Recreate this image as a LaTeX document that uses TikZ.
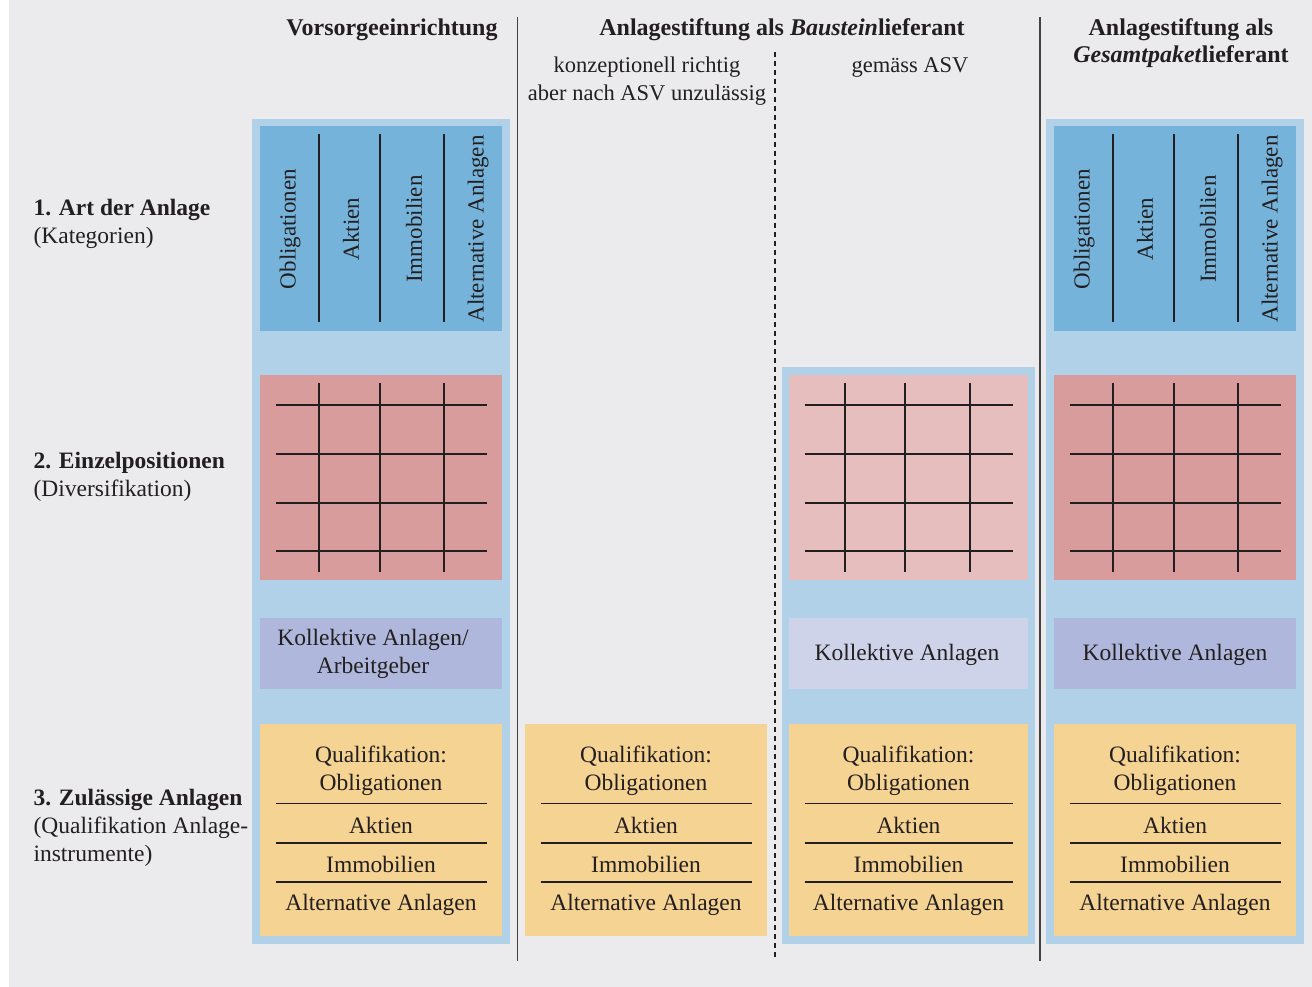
\documentclass[tikz,border=0pt]{standalone}
\usepackage{fontspec}
\setmainfont{Liberation Serif}
\definecolor{bgc}{HTML}{EBEBEE}
\definecolor{outerblue}{HTML}{B0D1E8}
\definecolor{innerblue}{HTML}{76B3DA}
\definecolor{redbox}{HTML}{D99C9C}
\definecolor{redlight}{HTML}{E7BEBE}
\definecolor{kollbox}{HTML}{AFB8DC}
\definecolor{kolllight}{HTML}{CFD3EA}
\definecolor{yelbox}{HTML}{F5D393}
\definecolor{ink}{HTML}{231F20}
\begin{document}
\begin{tikzpicture}[x=1pt,y=-1pt,
  every node/.style={text=ink, font=\fontsize{23.5}{28}\selectfont},
  rule/.style={draw=ink, line width=1.3pt},
  sep/.style={draw=ink!85, line width=1.5pt},
  hdr/.style={font=\fontsize{24}{27}\selectfont\bfseries, align=center},
  sub/.style={align=center, font=\fontsize{22.5}{28}\selectfont},
  lab/.style={anchor=west, align=left},
  vtext/.style={rotate=90, font=\fontsize{23}{27}\selectfont},
  cell/.style={align=center}]
\useasboundingbox (0,0) rectangle (1312,987);
\fill[white] (0,0) rectangle (1312,987);
\fill[bgc] (9,0) rectangle (1312,987);

% ---- outer light blue columns
\fill[outerblue] (252,119) rectangle (510,944);
\fill[outerblue] (782,367) rectangle (1035,944);
\fill[outerblue] (1046,119) rectangle (1304,944);

% ---- column separators
\coordinate (s1t) at (517.5,17);  \coordinate (s1b) at (517.5,961);
\coordinate (s2t) at (775,52);    \coordinate (s2b) at (775,960);
\coordinate (s3t) at (1040,17);   \coordinate (s3b) at (1040,961);
\draw[sep] (s1t) -- (s1b);
\draw[sep] (s3t) -- (s3b);
\draw[draw=ink, line width=1.2pt, dash pattern=on 5pt off 4pt] (s2t) -- (s2b);

% ---- headers
\node[hdr] (h1) at (392,30) {Vorsorgeeinrichtung};
\node[hdr] (h2) at (782,30) {Anlagestiftung als \textit{Baustein}lieferant};
\node[sub] (h2a) at (647,81) {konzeptionell richtig\\aber nach ASV unzulässig};
\node[sub] (h2b) at (910,67) {gemäss ASV};
\node[hdr] (h3) at (1181,43.5) {Anlagestiftung als\\\textit{Gesamtpaket}lieferant};

% ---- row labels
\node[lab] (l1) at (30,224) {\textbf{1. Art der Anlage}\\(Kategorien)};
\node[lab] (l2) at (30,477) {\textbf{2. Einzelpositionen}\\(Diversifikation)};
\node[lab] (l3) at (30,828) {\textbf{3. Zulässige Anlagen}\\(Qualifikation Anlage-\\instrumente)};

% ---- 1. Art der Anlage (columns 1 and 4)
\foreach \L/\n in {260/a, 1054/d} {
  \fill[innerblue] (\L,126) rectangle ++(242,205);
  \draw[rule] (\L+59,134) -- (\L+59,322);
  \draw[rule] (\L+120,134) -- (\L+120,322);
  \draw[rule] (\L+184,134) -- (\L+184,322);
  \node[vtext] (ob\n) at (\L+30,229) {Obligationen};
  \node[vtext] (ak\n) at (\L+91,229) {Aktien};
  \node[vtext] (im\n) at (\L+154,229) {Immobilien};
  \node[vtext] (al\n) at (\L+218,229) {Alternative Anlagen};
}

% ---- 2. Einzelpositionen grids
\foreach \L/\W/\a/\b/\c/\col in {260/242/59/120/184/redbox, 789/239/56/116/181/redlight, 1054/242/59/120/184/redbox} {
  \fill[\col] (\L,375) rectangle ++(\W,205);
  \foreach \y in {405,454,503,551} \draw[rule] (\L+15.5,\y) -- (\L+\W-15,\y);
  \foreach \x in {\a,\b,\c} \draw[rule] (\L+\x,383) -- (\L+\x,572);
}

% ---- Kollektive Anlagen
\fill[kollbox] (260,618) rectangle (502,689);
\node[cell] (k1) at (373,654) {Kollektive Anlagen/\\Arbeitgeber};
\fill[kolllight] (789,618) rectangle (1028,689);
\node[cell] (k3) at (907,655) {Kollektive Anlagen};
\fill[kollbox] (1054,618) rectangle (1296,689);
\node[cell] (k4) at (1175,655) {Kollektive Anlagen};

% ---- 3. Zulässige Anlagen
\foreach \L/\W/\n in {260/242/a, 525/242/b, 789/239/c, 1054/242/d} {
  \fill[yelbox] (\L,724) rectangle ++(\W,212);
  \foreach \y in {803.5,843,882} \draw[rule] (\L+15.5,\y) -- (\L+\W-15,\y);
  \node[cell] (q\n) at (\L+\W/2,770.5) {Qualifikation:\\Obligationen};
  \node[cell] (qa\n) at (\L+\W/2,825) {Aktien};
  \node[cell] (qi\n) at (\L+\W/2,864.5) {Immobilien};
  \node[cell] (qal\n) at (\L+\W/2,905) {Alternative Anlagen};
}
\end{tikzpicture}
\end{document}
